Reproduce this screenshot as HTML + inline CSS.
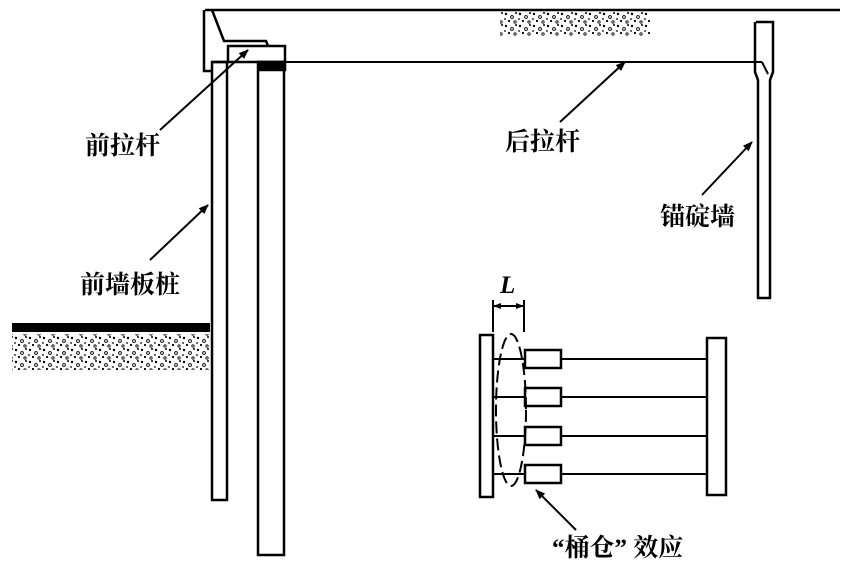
<!DOCTYPE html>
<html><head><meta charset="utf-8"><style>
body{margin:0;background:#fff}
svg{display:block}
text{font-family:"Liberation Serif","Noto Serif CJK SC","Noto Sans CJK SC",serif;font-size:25px;fill:#000;font-weight:bold}
</style></head><body>
<svg width="860" height="566" viewBox="0 0 860 566">
<defs>
<marker id="a" markerWidth="10" markerHeight="8" refX="9" refY="4" orient="auto" markerUnits="userSpaceOnUse"><path d="M0,0L10,4L0,8z"/></marker>
<marker id="b" markerWidth="8" markerHeight="6" refX="7" refY="3" orient="auto" markerUnits="userSpaceOnUse"><path d="M0,0L8,3L0,6z"/></marker>
<pattern id="sp" width="14" height="12" patternUnits="userSpaceOnUse">
<circle cx="2" cy="2" r="1.2"/><circle cx="8" cy="5" r="1.4" fill="none" stroke="#000" stroke-width="0.9"/><circle cx="12" cy="1" r="1"/><circle cx="5" cy="9" r="1.1"/><circle cx="11" cy="10" r="1.2" fill="none" stroke="#000" stroke-width="0.8"/><circle cx="1" cy="7" r="0.9"/>
</pattern>
</defs>
<g stroke="#000" fill="none" stroke-width="2.5">
<line x1="205" y1="10" x2="840" y2="10"/>
<path d="M204,10V71H212"/>
<path d="M212,10L224,41H266L268,46"/>
<rect x="228" y="46" width="57" height="16"/>
<rect x="212" y="62" width="15" height="438"/>
<rect x="258" y="62" width="26" height="493"/>
<rect x="259" y="62" width="26" height="8" fill="#000"/>
<line x1="212" y1="62" x2="228" y2="62"/>
<line x1="285" y1="62" x2="762" y2="62" stroke-width="2"/>
<path d="M762,62L768,74" stroke-width="2"/>
<path d="M756,22H773V72L770,80V298H758V80L755,72V22"/>
<rect x="480" y="335" width="13" height="162"/>
<rect x="707" y="338" width="19" height="157"/>
<g stroke-width="2">
<line x1="493" y1="359" x2="707" y2="359"/>
<line x1="493" y1="397" x2="707" y2="397"/>
<line x1="493" y1="436" x2="707" y2="436"/>
<line x1="493" y1="474" x2="707" y2="474"/>
<line x1="493" y1="300" x2="493" y2="332"/>
<line x1="524" y1="300" x2="524" y2="332"/>
<line x1="509" y1="306" x2="494" y2="306" marker-end="url(#b)"/>
<line x1="509" y1="306" x2="523" y2="306" marker-end="url(#b)"/>
</g>
<rect x="525" y="350" width="36" height="18" fill="#fff"/>
<rect x="525" y="388" width="36" height="18" fill="#fff"/>
<rect x="525" y="427" width="36" height="18" fill="#fff"/>
<rect x="525" y="465" width="36" height="18" fill="#fff"/>
<ellipse cx="511" cy="410" rx="15" ry="76" stroke-dasharray="12,5" stroke-width="2"/>
<g stroke-width="2">
<line x1="160" y1="130" x2="248" y2="50" marker-end="url(#a)"/>
<line x1="150" y1="260" x2="208" y2="205" marker-end="url(#a)"/>
<line x1="560" y1="122" x2="625" y2="62" marker-end="url(#a)"/>
<line x1="702" y1="195" x2="752" y2="142" marker-end="url(#a)"/>
<line x1="576" y1="530" x2="536" y2="490" marker-end="url(#a)"/>
</g>
</g>
<rect x="12" y="323" width="198" height="9" fill="#000"/>
<rect x="12" y="334" width="198" height="36" fill="url(#sp)"/>
<rect x="500" y="12" width="150" height="24" fill="url(#sp)"/>
<text x="85" y="154">前拉杆</text>
<text x="80" y="293">前墙板桩</text>
<text x="505" y="150">后拉杆</text>
<text x="660" y="225">锚碇墙</text>
<text x="552" y="556">“桶仓” 效应</text>
<text x="500" y="293" font-style="italic" font-weight="normal">L</text>
</svg>
</body></html>
